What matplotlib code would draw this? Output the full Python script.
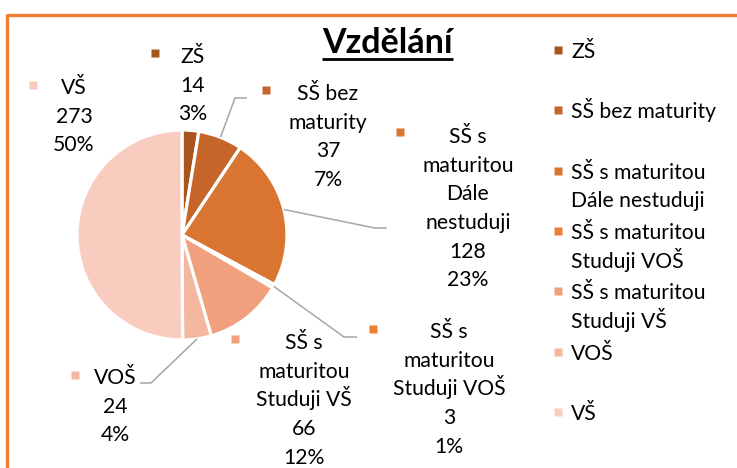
import matplotlib
matplotlib.use("Agg")
import matplotlib.pyplot as plt
import numpy as np

# ---------------- data ----------------
categories = ["ZŠ", "SŠ bez maturity", "SŠ s maturitou Dále nestuduji",
              "SŠ s maturitou Studuji VOŠ", "SŠ s maturitou Studuji VŠ", "VOŠ", "VŠ"]
values = [14, 37, 128, 3, 66, 24, 273]
legend_labels = ["ZŠ", "SŠ bez maturity", "SŠ s maturitou\nDále nestuduji",
                 "SŠ s maturitou\nStuduji VOŠ", "SŠ s maturitou\nStuduji VŠ", "VOŠ", "VŠ"]
pie_label_names = ["ZŠ", "SŠ bez\nmaturity", "SŠ s\nmaturitou\nDále\nnestuduji",
                   "SŠ s\nmaturitou\nStuduji VOŠ", "SŠ s\nmaturitou\nStuduji VŠ", "VOŠ", "VŠ"]
colors = ["#A9561E", "#C5652A", "#D97531", "#EE7E32", "#F0A07C", "#F4B8A1", "#F8CDBF"]
title = "Vzdělání"

# ---------------- layout (pixels, y from top) ----------------
W, H = 737, 468
FONT = ["Lato", "DejaVu Sans"]
FS = 15.2
LS = 28.7
pie_cx, pie_cy, pie_r = 182, 235, 105

label_cx = [193, 328, 468, 449, 304, 115, 74]
label_base = [63, 100, 143, 338, 349, 384, 94]
marker_pos = [(155, 53), (266, 90), (400, 132), (373, 329), (235, 339), (75, 375), (33, 85)]
# leader lines: (elbow, end) for labels that have one
leaders = {1: ((235, 98), (247, 98)),
           2: ((375, 228), (387, 228)),
           3: ((344, 337), (357, 337)),
           5: ((151, 383), (140, 383))}

fig = plt.figure(figsize=(W / 100, H / 100), dpi=100)
ax = fig.add_axes([0, 0, 1, 1])

def Y(y):
    return H - y

wedges, _ = ax.pie(values, colors=colors, startangle=90, counterclock=False,
                   center=(pie_cx, Y(pie_cy)), radius=pie_r,
                   wedgeprops=dict(edgecolor="white", linewidth=2.3))
ax.set_xlim(0, W)
ax.set_ylim(0, H)
ax.set_aspect("equal")
ax.axis("off")

total = sum(values)
# data labels
for i, v in enumerate(values):
    lines = pie_label_names[i].split("\n") + [str(v), f"{round(v / total * 100)}%"]
    for k, ln in enumerate(lines):
        ax.text(label_cx[i], Y(label_base[i] + k * LS), ln, ha="center", va="baseline",
                fontsize=FS, family=FONT, color="black")
    mx, my = marker_pos[i]
    ax.plot([mx], [Y(my)], marker="s", ms=6.3, color=colors[i], mec="none", clip_on=False)

# leader lines
for i, (elb, end) in leaders.items():
    w = wedges[i]
    ang = np.deg2rad((w.theta1 + w.theta2) / 2)
    sx = pie_cx + pie_r * np.cos(ang)
    sy = Y(pie_cy) + pie_r * np.sin(ang)
    ax.plot([sx, elb[0], end[0]], [sy, Y(elb[1]), Y(end[1])], color="#A6A6A6", lw=1.1,
            solid_capstyle="butt", zorder=1)

# legend (manual, Excel style)
leg_x_marker, leg_x_text = 558, 571
leg_base0, leg_step = 58, 60.3
for i, lab in enumerate(legend_labels):
    b = leg_base0 + i * leg_step
    for k, ln in enumerate(lab.split("\n")):
        ax.text(leg_x_text, Y(b + k * LS), ln, ha="left", va="baseline",
                fontsize=FS, family=FONT, color="black")
    ax.plot([leg_x_marker], [Y(b - 8)], marker="s", ms=6.3, color=colors[i], mec="none",
            clip_on=False)

# title with underline
t = ax.text(387.5, Y(53), title, ha="center", va="baseline", fontsize=24.5,
            family=FONT, fontweight="bold", color="black")
fig.canvas.draw()
bb = t.get_window_extent(fig.canvas.get_renderer())
ax.plot([bb.x0, bb.x1], [Y(59), Y(59)], color="black", lw=2.0, solid_capstyle="butt")

# orange chart border (top and left visible)
ax.plot([7, W], [Y(15), Y(15)], color="#ED7D31", lw=2.4, solid_capstyle="butt", clip_on=False)
ax.plot([7, 7], [Y(14), 0], color="#ED7D31", lw=2.4, solid_capstyle="butt", clip_on=False)

fig.savefig("out.png", dpi=100)
